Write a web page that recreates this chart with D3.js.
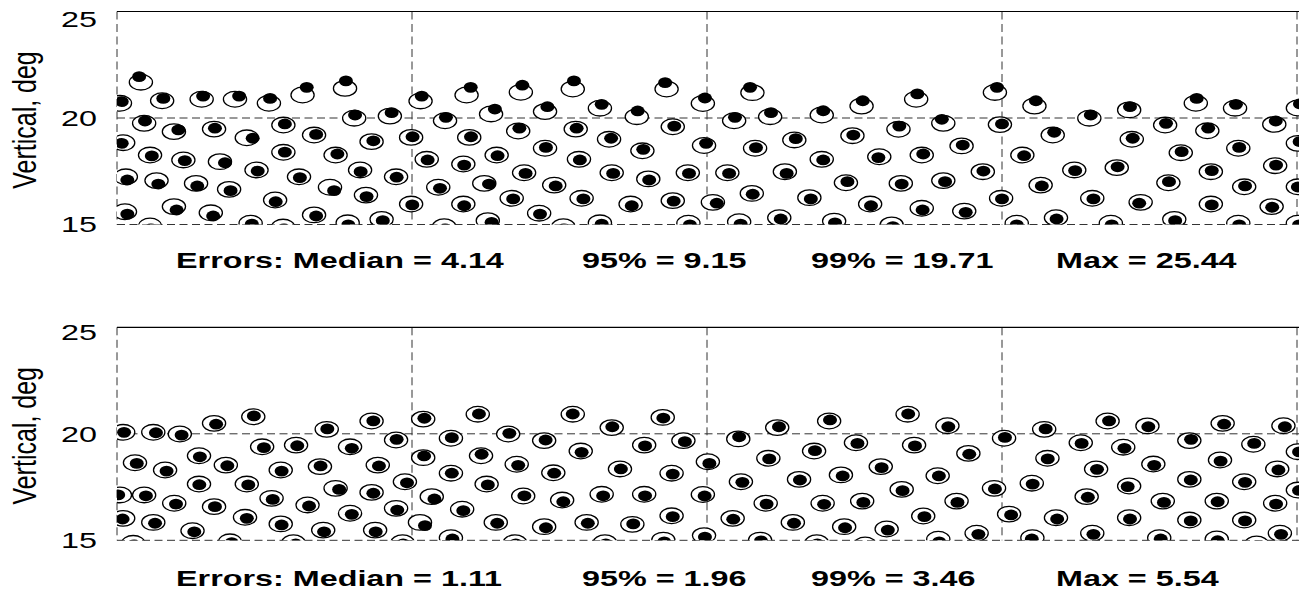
<!DOCTYPE html>
<html>
<head>
<meta charset="utf-8">
<script src="https://cdn.jsdelivr.net/npm/d3@7"></script>
<style>
  html, body { margin: 0; padding: 0; background: #fff; }
  svg { display: block; }
</style>
</head>
<body>
<svg id="chart" width="1299" height="590"></svg>
<script>
// Vertical axis ticks and interior vertical grid positions (horizontal deg)
const yTicks = [15, 20, 25];
const xGridLines = [-10, 0, 10];

// Upper panel: target locations [horizontal deg, vertical deg]
const topTargets = [
  [-19.19,21.68],[-19.90,20.69],[-18.47,20.81],[-17.13,20.88],[-16.00,20.88],[-14.85,20.69],[-13.71,21.08],[-12.27,21.39],
  [-19.08,19.75],[-18.07,19.36],[-16.71,19.48],[-14.36,19.67],[-11.96,19.99],[-10.75,20.09],
  [-19.79,18.84],[-15.60,19.07],[-13.32,19.20],[-11.37,18.89],
  [-18.88,18.26],[-17.75,18.03],[-16.51,17.95],[-14.36,18.39],[-12.59,18.26],
  [-19.70,17.24],[-18.66,17.06],[-17.32,16.93],[-15.27,17.56],[-16.20,16.65],[-13.83,17.24],[-12.78,16.75],[-11.76,17.56],[-10.54,17.24],
  [-14.64,16.15],[-11.56,16.38],
  [-19.73,15.60],[-18.07,15.84],[-16.82,15.55],[-13.32,15.45],[-11.03,15.24],
  [-18.88,14.93],[-15.47,15.06],[-14.37,14.88],[-12.18,15.08],
  [-9.71,20.80],[-8.15,21.08],[-6.31,21.21],[-4.55,21.36],[-1.37,21.36],[-0.14,20.68],
  [-8.88,19.87],[-7.32,20.19],[-5.49,20.30],[-3.63,20.46],[-2.38,20.06],
  [-10.03,19.09],[-8.06,19.09],[-6.40,19.39],[-4.45,19.48],[-3.32,19.00],[-1.16,19.59],[-0.10,18.71],
  [-9.50,18.06],[-8.26,17.84],[-7.13,18.26],[-5.49,18.58],[-4.34,18.06],[-2.19,18.46],
  [-7.55,16.93],[-6.20,17.43],[-5.18,16.85],[-3.23,17.43],[-1.99,17.14],[-0.65,17.43],[-9.11,16.75],
  [-10.03,15.96],[-8.26,15.96],[-6.62,16.23],[-4.25,16.23],[-2.59,15.96],[-1.16,16.12],[0.20,16.04],
  [-5.69,15.53],[-7.43,15.18],[-8.91,14.90],[-4.87,14.90],[-3.63,15.08],[-0.63,15.06],
  [1.54,21.19],[5.24,20.56],[7.09,20.88],[9.76,21.20],
  [0.92,19.87],[2.14,20.06],[3.89,20.14],[6.49,19.47],[8.01,19.75],[9.93,19.69],
  [1.63,18.58],[2.96,18.97],[4.93,19.17],[8.63,18.69],
  [3.89,18.06],[5.84,18.18],[7.28,18.26],
  [0.69,17.43],[2.64,17.48],[4.71,16.96],[6.57,16.93],[8.01,17.06],[9.35,17.48],
  [1.52,16.46],[3.47,16.26],[5.53,15.96],[7.28,15.76],[8.72,15.63],[9.97,16.23],
  [1.09,15.13],[2.45,15.32],[4.31,15.16],[6.26,14.98],
  [11.10,20.56],[14.31,20.38],[16.57,20.69],[17.90,20.46],[20.03,20.47],
  [12.96,19.99],[15.53,19.67],[16.96,19.40],[19.23,19.70],
  [11.72,19.20],[14.40,19.00],[18.01,18.58],[20.03,18.81],
  [10.69,18.26],[16.06,18.37],
  [12.45,17.56],[13.89,17.67],[17.08,17.48],[19.26,17.76],
  [11.31,16.85],[15.64,16.96],[18.21,16.77],[20.03,16.77],
  [13.06,16.23],[14.70,16.04],[17.08,15.96],[19.14,15.84],
  [11.83,15.32],[15.84,15.24],
  [10.50,15.06],[13.69,15.06],[18.01,15.06],[20.03,15.06]
];

// Upper panel: estimated locations, same order as topTargets
const topEstimates = [
  [-19.25,21.94],[-19.84,20.77],[-18.43,20.92],[-17.08,21.03],[-15.86,21.03],[-14.81,20.92],[-13.57,21.44],[-12.24,21.74],
  [-19.05,19.86],[-17.92,19.44],[-16.68,19.52],[-14.31,19.72],[-11.93,20.14],[-10.69,20.25],
  [-19.84,18.81],[-15.40,19.05],[-13.25,19.23],[-11.31,18.93],
  [-18.82,18.22],[-17.70,18.00],[-16.34,17.90],[-14.31,18.40],[-12.53,18.31],
  [-19.65,17.09],[-18.60,16.90],[-17.28,16.81],[-15.23,17.51],[-16.15,16.59],[-13.80,17.20],[-12.64,16.59],[-11.74,17.48],[-10.52,17.22],
  [-14.62,16.07],[-11.54,16.31],
  [-19.65,15.49],[-17.98,15.68],[-16.74,15.40],[-13.25,15.40],[-10.99,15.18],
  [-18.85,14.79],[-15.43,15.02],[-14.34,14.79],[-12.16,14.98],
  [-9.67,21.03],[-8.01,21.44],[-6.26,21.54],[-4.51,21.74],[-1.42,21.66],[-0.07,20.94],
  [-8.85,20.03],[-7.19,20.42],[-5.41,20.53],[-3.57,20.64],[-2.35,20.33],
  [-9.98,19.12],[-8.00,19.12],[-6.36,19.52],[-4.42,19.52],[-3.25,19.05],[-1.11,19.62],[-0.03,18.81],
  [-9.47,18.03],[-8.23,17.79],[-7.10,18.23],[-5.46,18.62],[-4.31,18.03],[-2.16,18.53],
  [-7.39,16.90],[-6.15,17.40],[-5.13,16.81],[-3.18,17.40],[-1.96,17.09],[-0.61,17.40],[-9.05,16.70],
  [-9.99,15.92],[-8.23,15.88],[-6.57,16.20],[-4.19,16.20],[-2.55,15.88],[-1.13,16.10],[0.33,16.00],
  [-5.66,15.49],[-7.30,15.10],[-8.88,14.79],[-4.85,14.79],[-3.57,15.02],[-0.58,14.98],
  [1.46,21.44],[5.28,20.81],[7.13,21.13],[9.83,21.44],
  [0.95,20.03],[2.17,20.25],[3.94,20.34],[6.52,19.62],[7.96,19.94],[10.00,19.72],
  [1.66,18.61],[3.01,19.03],[4.96,19.20],[8.67,18.73],
  [3.94,18.03],[5.81,18.14],[7.33,18.31],
  [0.75,17.40],[2.70,17.40],[4.76,17.01],[6.60,16.90],[8.07,17.01],[9.37,17.51],
  [1.55,16.42],[3.52,16.20],[5.56,15.88],[7.31,15.68],[8.77,15.57],[10.00,16.20],
  [1.14,15.02],[2.50,15.26],[4.34,15.08],[6.30,14.90],
  [11.15,20.81],[14.34,20.53],[16.60,20.92],[17.93,20.64],[20.10,20.66],
  [13.01,20.14],[15.56,19.75],[16.99,19.52],[19.28,19.86],
  [11.77,19.33],[14.43,19.05],[18.04,18.62],[20.09,18.89],
  [10.75,18.23],[16.09,18.42],
  [12.48,17.53],[13.92,17.71],[17.11,17.53],[19.29,17.79],
  [11.35,16.81],[15.66,17.01],[18.24,16.81],[20.03,16.76],
  [13.10,16.20],[14.65,16.00],[17.11,15.92],[19.16,15.81],
  [11.85,15.26],[15.87,15.18],
  [10.50,14.98],[13.72,14.98],[18.04,14.98],[20.07,14.98]
];

// Lower panel: target locations
const bottomTargets = [
  [-19.79,20.07],[-18.77,20.07],[-17.87,19.99],[-16.71,20.49],[-15.38,20.80],[-12.89,20.21],[-11.37,20.60],
  [-15.08,19.39],[-13.93,19.47],[-12.10,19.39],[-10.54,19.71],
  [-17.22,18.97],[-19.39,18.64],[-18.37,18.30],[-16.31,18.53],[-14.45,18.30],[-13.12,18.46],[-11.16,18.53],
  [-17.22,17.64],[-15.60,17.64],[-10.24,17.75],[-19.90,17.13],[-19.08,17.13],[-12.59,17.44],[-11.37,17.25],
  [-18.06,16.74],[-14.76,16.97],[-16.71,16.58],[-13.54,16.66],[-10.54,16.50],
  [-19.79,16.03],[-18.77,15.84],[-15.66,16.08],[-14.45,15.77],[-12.10,16.27],
  [-17.44,15.45],[-13.01,15.48],[-11.25,15.48],
  [-19.45,14.86],[-16.17,14.93],[-14.02,14.89],[-10.32,14.89],
  [-9.62,20.69],[-7.77,20.92],[-4.55,20.92],[-3.23,20.29],[-1.50,20.77],
  [-8.68,19.79],[-6.74,19.99],[-5.52,19.68],[-2.13,19.47],[-0.80,19.68],
  [-9.62,18.88],[-7.66,18.97],[-4.28,19.19],[-6.45,18.57],[-2.95,18.35],[0.03,18.69],
  [-8.68,18.15],[-5.21,18.17],[-1.20,18.15],[-7.47,17.64],
  [-9.33,17.05],[-6.23,17.08],[-4.91,16.89],[-3.57,17.16],[-2.13,17.16],[-0.14,17.15],
  [-8.30,16.46],[-9.73,15.84],[-7.16,15.84],[-5.52,15.64],[-4.08,15.84],[-2.53,15.75],[-1.20,16.15],[-0.10,15.22],
  [-8.68,15.12],[-6.51,14.89],[-3.46,14.89],[-1.48,15.01],
  [1.06,19.76],[2.38,20.29],[4.14,20.60],[6.80,20.92],[8.15,20.38],[10.07,19.79],
  [5.05,19.58],[7.02,19.47],[3.63,19.19],[8.86,19.08],[2.08,18.85],[5.89,18.46],
  [1.15,17.75],[3.12,17.86],[4.54,18.07],[7.82,18.03],[6.60,17.39],[9.73,17.44],
  [1.99,16.74],[3.92,16.74],[5.26,16.84],[8.46,16.84],
  [0.87,16.03],[2.91,15.84],[4.65,15.64],[6.09,15.53],[7.33,16.14],[10.24,16.23],
  [1.80,15.01],[3.72,14.89],[5.36,14.78],[7.84,15.05],[9.14,15.33],
  [11.43,20.21],[13.58,20.60],[14.93,20.37],[17.48,20.49],[19.54,20.38],
  [12.67,19.58],[14.11,19.37],[16.35,19.68],[18.52,19.51],
  [11.54,18.85],[15.13,18.58],[17.39,18.77],[20.03,19.16],
  [13.19,18.35],[19.33,18.35],[16.35,17.86],[18.21,17.75],[11.01,17.68],[14.31,17.55],[20.03,17.36],
  [12.87,17.05],[15.45,16.84],[17.28,16.84],[19.26,16.74],
  [11.83,16.06],[14.31,16.06],[16.35,15.95],[18.21,15.95],
  [11.03,15.12],[13.06,15.33],[15.33,15.12],[17.28,15.06],[19.42,15.33],[18.63,14.83]
];

// Lower panel: estimated locations, same order as bottomTargets
const bottomEstimates = [
  [-19.76,20.07],[-18.68,20.05],[-17.81,19.94],[-16.64,20.45],[-15.36,20.84],[-12.87,20.23],[-11.31,20.61],
  [-15.02,19.35],[-13.89,19.44],[-12.04,19.32],[-10.52,19.74],
  [-17.19,18.92],[-19.33,18.61],[-18.32,18.25],[-16.26,18.50],[-14.42,18.25],[-13.10,18.49],[-11.12,18.49],
  [-17.21,17.61],[-15.55,17.60],[-10.17,17.70],[-19.96,17.13],[-19.02,17.09],[-12.47,17.39],[-11.31,17.21],
  [-18.00,16.70],[-14.72,16.92],[-16.68,16.58],[-13.49,16.61],[-10.50,16.42],
  [-19.81,16.00],[-18.71,15.80],[-15.60,16.03],[-14.42,15.72],[-12.04,16.22],
  [-17.38,15.40],[-12.98,15.40],[-11.23,15.40],
  [-19.42,14.78],[-16.11,14.89],[-13.94,14.83],[-10.30,14.83],
  [-9.58,20.73],[-7.73,20.93],[-4.55,20.93],[-3.21,20.33],[-1.48,20.74],
  [-8.65,19.82],[-6.70,20.02],[-5.47,19.71],[-2.10,19.43],[-0.75,19.63],
  [-9.59,18.96],[-7.64,19.04],[-4.25,19.13],[-6.40,18.52],[-2.92,18.35],[0.08,18.61],
  [-8.65,18.15],[-5.18,18.15],[-1.16,18.11],[-7.43,17.60],
  [-9.24,16.94],[-6.19,17.09],[-4.87,16.81],[-3.52,17.09],[-2.10,17.09],[-0.08,17.08],
  [-8.26,16.39],[-9.56,15.69],[-7.11,15.80],[-5.46,15.59],[-4.04,15.80],[-2.50,15.77],[-1.16,16.11],[-0.07,15.15],
  [-8.63,15.06],[-6.48,14.83],[-3.43,14.83],[-1.45,14.93],
  [1.09,19.86],[2.44,20.33],[4.17,20.65],[6.82,20.93],[8.18,20.33],[10.10,19.83],
  [5.10,19.55],[7.05,19.43],[3.66,19.21],[8.89,19.04],[2.11,18.82],[5.92,18.41],
  [1.20,17.72],[3.15,17.83],[4.60,18.02],[7.86,18.02],[6.63,17.33],[9.76,17.41],
  [2.02,16.70],[3.97,16.69],[5.30,16.78],[8.49,16.78],
  [0.89,15.99],[2.95,15.80],[4.68,15.59],[6.13,15.48],[7.37,16.11],[10.31,16.19],
  [1.83,14.97],[3.74,14.83],[5.39,14.69],[7.87,14.93],[9.20,15.28],
  [11.48,20.23],[13.63,20.61],[14.96,20.33],[17.53,20.45],[19.59,20.33],
  [12.70,19.55],[14.15,19.32],[16.41,19.74],[18.55,19.55],
  [11.55,18.82],[15.16,18.52],[17.41,18.72],[20.07,19.15],
  [13.22,18.33],[19.37,18.30],[16.40,17.83],[18.24,17.72],[11.04,17.64],[14.26,17.52],[20.07,17.34],
  [12.91,17.02],[15.49,16.78],[17.31,16.81],[19.29,16.70],
  [11.87,16.00],[14.34,16.00],[16.40,15.91],[18.24,15.91],
  [11.01,15.06],[13.10,15.28],[15.38,15.06],[17.31,14.98],[19.46,15.28],[18.64,14.73]
];

// Error summary shown under each panel
const topStats = ["Errors: Median = 4.14", "95% = 9.15", "99% = 19.71", "Max = 25.44"];
const bottomStats = ["Errors: Median = 1.11", "95% = 1.96", "99% = 3.46", "Max = 5.54"];

const width = 1299;
const svg = d3.select("#chart");
const font = "'Liberation Sans', Arial, Helvetica, sans-serif";
const stretch = 1.47;          // horizontal stretch of the rendered figure
const statX = [176, 582, 811, 1056];

const x = d3.scaleLinear().domain([-20, 20]).range([117, 1297]);

const panels = [
  { targets: topTargets, estimates: topEstimates, stats: topStats, top: 11.5, bottom: 224.5, statsBaseline: 268, labelTop: 26.7 },
  { targets: bottomTargets, estimates: bottomEstimates, stats: bottomStats, top: 327.3, bottom: 540.3, statsBaseline: 585.5, labelTop: 340 }
];

const defs = svg.append("defs");

panels.forEach((p, i) => {
  const y = d3.scaleLinear().domain([15, 25]).range([p.bottom, p.top]);
  const g = svg.append("g");

  const clipId = "plot-clip-" + i;
  defs.append("clipPath").attr("id", clipId)
    .append("rect")
    .attr("x", x(-20)).attr("y", p.top)
    .attr("width", width - x(-20)).attr("height", p.bottom - p.top);

  // dashed grid: frame sides, interior verticals, 20 and 15 deg lines
  const grid = g.append("g")
    .attr("stroke", "#333").attr("stroke-width", 1)
    .attr("stroke-dasharray", "8,4.5").attr("fill", "none");
  grid.selectAll("line.v").data([-20, ...xGridLines, 20]).join("line")
    .attr("class", "v")
    .attr("x1", d => x(d)).attr("x2", d => x(d))
    .attr("y1", p.top).attr("y2", p.bottom);
  grid.selectAll("line.h").data(yTicks.filter(t => t < 25)).join("line")
    .attr("class", "h")
    .attr("x1", x(-20)).attr("x2", width)
    .attr("y1", d => y(d)).attr("y2", d => y(d));

  // solid top border
  g.append("line")
    .attr("x1", x(-20)).attr("x2", width)
    .attr("y1", p.top).attr("y2", p.top)
    .attr("stroke", "#000").attr("stroke-width", 1.2);

  const marks = g.append("g").attr("clip-path", `url(#${clipId})`);

  // targets: open ellipses
  marks.selectAll("ellipse.target").data(p.targets).join("ellipse")
    .attr("class", "target")
    .attr("cx", d => x(d[0])).attr("cy", d => y(d[1]))
    .attr("rx", 11.6).attr("ry", 7.8)
    .attr("fill", "#fff").attr("stroke", "#000").attr("stroke-width", 1.3);

  // estimates: filled black dots
  marks.selectAll("ellipse.estimate").data(p.estimates).join("ellipse")
    .attr("class", "estimate")
    .attr("cx", d => x(d[0])).attr("cy", d => y(d[1]))
    .attr("rx", 7).attr("ry", 5.4)
    .attr("fill", "#000");

  // y tick labels
  g.selectAll("text.tick").data(yTicks).join("text")
    .attr("class", "tick")
    .attr("transform", d => {
      const base = d === 25 ? p.labelTop : y(d) + 7.7;
      return `translate(97,${base}) scale(${stretch},1)`;
    })
    .attr("text-anchor", "end")
    .attr("font-family", font).attr("font-size", 22)
    .attr("fill", "#000")
    .text(d => d);

  // y axis title
  g.append("text")
    .attr("transform", `translate(36,${(p.top + p.bottom) / 2 + 2}) scale(1.35,1) rotate(-90)`)
    .attr("text-anchor", "middle")
    .attr("font-family", font).attr("font-size", 25)
    .attr("fill", "#000")
    .text("Vertical, deg");

  // error summary line
  g.selectAll("text.stat").data(p.stats).join("text")
    .attr("class", "stat")
    .attr("transform", (d, k) => `translate(${statX[k]},${p.statsBaseline}) scale(${stretch},1)`)
    .attr("font-family", font).attr("font-size", 22).attr("font-weight", "bold")
    .attr("fill", "#000")
    .text(d => d);
});
</script>
</body>
</html>
